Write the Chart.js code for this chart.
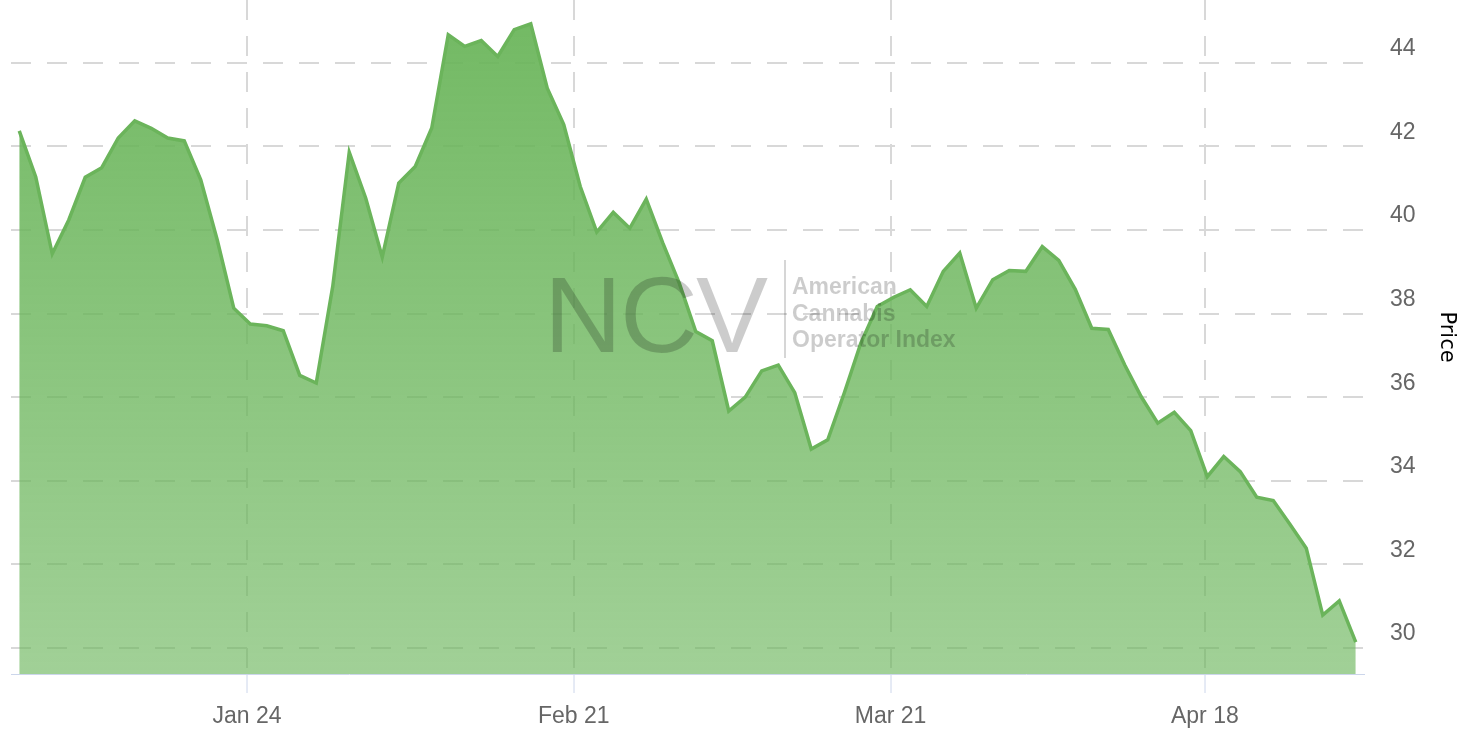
<!DOCTYPE html>
<html>
<head>
<meta charset="utf-8">
<script src="https://cdn.jsdelivr.net/npm/chart.js@4.4.0/dist/chart.umd.min.js"></script>
<style>
  html, body { margin: 0; padding: 0; background: #ffffff; }
  #wrap { position: relative; width: 1470px; height: 738px; overflow: hidden; }
  #chart { position: absolute; left: 0; top: 0; }
  .wm { position: absolute; pointer-events: none; color: rgba(0,0,0,0.2); font-family: "Liberation Sans", Arial, sans-serif; white-space: nowrap; }
  #wmNcv { left: 544px; top: 261px; font-size: 108px; line-height: 108px; letter-spacing: -2px; }
  #wmBar { left: 784px; top: 260px; width: 2px; height: 98px; background: rgba(0,0,0,0.16); }
  #wmText { left: 792px; top: 273px; font-size: 23px; line-height: 26.5px; font-weight: bold; }
</style>
</head>
<body>
<div id="wrap">
  <canvas id="chart" width="1470" height="738"></canvas>
  <div class="wm" id="wmNcv">NCV</div>
  <div class="wm" id="wmBar"></div>
  <div class="wm" id="wmText">American<br>Cannabis<br>Operator Index</div>
</div>
<script>
// Trading days (categories)
const dates = [
  '2022-01-03','2022-01-04','2022-01-05','2022-01-06','2022-01-07','2022-01-10','2022-01-11','2022-01-12','2022-01-13','2022-01-14',
  '2022-01-18','2022-01-19','2022-01-20','2022-01-21','2022-01-24','2022-01-25','2022-01-26','2022-01-27','2022-01-28','2022-01-31',
  '2022-02-01','2022-02-02','2022-02-03','2022-02-04','2022-02-07','2022-02-08','2022-02-09','2022-02-10','2022-02-11','2022-02-14',
  '2022-02-15','2022-02-16','2022-02-17','2022-02-18','2022-02-22','2022-02-23','2022-02-24','2022-02-25','2022-02-28','2022-03-01',
  '2022-03-02','2022-03-03','2022-03-04','2022-03-07','2022-03-08','2022-03-09','2022-03-10','2022-03-11','2022-03-14','2022-03-15',
  '2022-03-16','2022-03-17','2022-03-18','2022-03-21','2022-03-22','2022-03-23','2022-03-24','2022-03-25','2022-03-28','2022-03-29',
  '2022-03-30','2022-03-31','2022-04-01','2022-04-04','2022-04-05','2022-04-06','2022-04-07','2022-04-08','2022-04-11','2022-04-12',
  '2022-04-13','2022-04-14','2022-04-18','2022-04-19','2022-04-20','2022-04-21','2022-04-22','2022-04-25','2022-04-26','2022-04-27',
  '2022-04-28','2022-04-29'
];

// Price series
const prices = [
  42.37, 41.27, 39.43, 40.24, 41.26, 41.49, 42.20, 42.61, 42.43, 42.20,
  42.13, 41.20, 39.76, 38.13, 37.75, 37.71, 37.59, 36.52, 36.34, 38.65,
  41.86, 40.76, 39.35, 41.12, 41.52, 42.44, 44.67, 44.39, 44.53, 44.15,
  44.79, 44.93, 43.39, 42.52, 41.04, 39.95, 40.42, 40.04, 40.74, 39.69,
  38.73, 37.57, 37.35, 35.67, 36.00, 36.63, 36.77, 36.11, 34.76, 34.98,
  36.10, 37.29, 38.17, 38.39, 38.57, 38.17, 39.01, 39.45, 38.13, 38.81,
  39.03, 39.01, 39.60, 39.27, 38.58, 37.65, 37.62, 36.77, 36.01, 35.38,
  35.64, 35.20, 34.10, 34.58, 34.22, 33.61, 33.53, 32.97, 32.39, 30.79,
  31.13, 30.14
];

// X tick labels and the dates they mark
const xTickLabels = ['Jan 24', 'Feb 21', 'Mar 21', 'Apr 18'];
const xTickDates = ['2022-01-24', '2022-02-21', '2022-03-21', '2022-04-18'];

// Y tick values
const yTickValues = [30, 32, 34, 36, 38, 40, 42, 44];

// Points are stamped in the afternoon; ticks sit at midnight, placed between trading days
const POINT_HOUR = 14;
function toMs(d) { const [y, m, dd] = d.split('-').map(Number); return Date.UTC(y, m - 1, dd); }
const pointTimes = dates.map(d => toMs(d) + POINT_HOUR * 3600e3);
function ordinalPos(t) {
  for (let i = 0; i < pointTimes.length - 1; i++) {
    if (t >= pointTimes[i] && t < pointTimes[i + 1]) {
      return i + (t - pointTimes[i]) / (pointTimes[i + 1] - pointTimes[i]);
    }
  }
  return t < pointTimes[0] ? 0 : pointTimes.length - 1;
}
const xTickPositions = xTickDates.map(d => ordinalPos(toMs(d)));

const points = prices.map((v, i) => ({ x: i, y: v }));

const LINE = '#6bb45b';
const tickFont = { family: '"Liberation Sans", Arial, sans-serif', size: 23 };

new Chart(document.getElementById('chart'), {
  type: 'line',
  data: {
    datasets: [{
      data: points,
      borderColor: LINE,
      borderWidth: 3.5,
      pointRadius: 0,
      pointHoverRadius: 0,
      tension: 0,
      fill: 'start',
      backgroundColor: (ctx) => {
        const a = ctx.chart.chartArea;
        if (!a) return 'rgba(106,181,90,0.8)';
        const g = ctx.chart.ctx.createLinearGradient(0, a.top, 0, a.bottom);
        g.addColorStop(0, 'rgba(106,181,90,0.95)');
        g.addColorStop(1, 'rgba(106,181,90,0.63)');
        return g;
      }
    }]
  },
  options: {
    responsive: false,
    animation: false,
    events: [],
    layout: { padding: { left: 11, top: 0, right: 0, bottom: 0 } },
    plugins: { legend: { display: false }, tooltip: { enabled: false } },
    scales: {
      x: {
        type: 'linear',
        min: -0.5,
        max: 81.5,
        afterBuildTicks: (scale) => { scale.ticks = xTickPositions.map(v => ({ value: v })); },
        afterFit: (scale) => { scale.height = 64; scale.paddingLeft = 0; scale.paddingRight = 0; },
        ticks: {
          autoSkip: false,
          maxRotation: 0,
          minRotation: 0,
          padding: 10,
          color: '#666666',
          font: tickFont,
          callback: (value, index) => xTickLabels[index]
        },
        grid: {
          color: '#d8d8d8',
          lineWidth: 2,
          tickLength: 19,
          tickColor: '#ccd6eb',
          tickWidth: 1,
          drawTicks: true
        },
        border: { display: true, color: '#ccd6eb', width: 1, dash: [20, 16] }
      },
      y: {
        type: 'linear',
        position: 'right',
        min: 29.38,
        max: 45.5,
        afterBuildTicks: (scale) => { scale.ticks = yTickValues.map(v => ({ value: v })); },
        afterFit: (scale) => { scale.width = 106; scale.paddingTop = 0; scale.paddingBottom = 0; },
        ticks: {
          padding: 26,
          labelOffset: -14,
          color: '#666666',
          font: tickFont,
          callback: (v) => String(v)
        },
        grid: {
          color: '#d8d8d8',
          lineWidth: 2,
          drawTicks: false
        },
        border: { display: false, dash: [20, 16] },
        title: {
          display: true,
          text: 'Price',
          color: '#000000',
          font: { family: '"DejaVu Sans", sans-serif', size: 21 },
          padding: { top: 11, bottom: 0 }
        }
      }
    }
  }
});
</script>
</body>
</html>
